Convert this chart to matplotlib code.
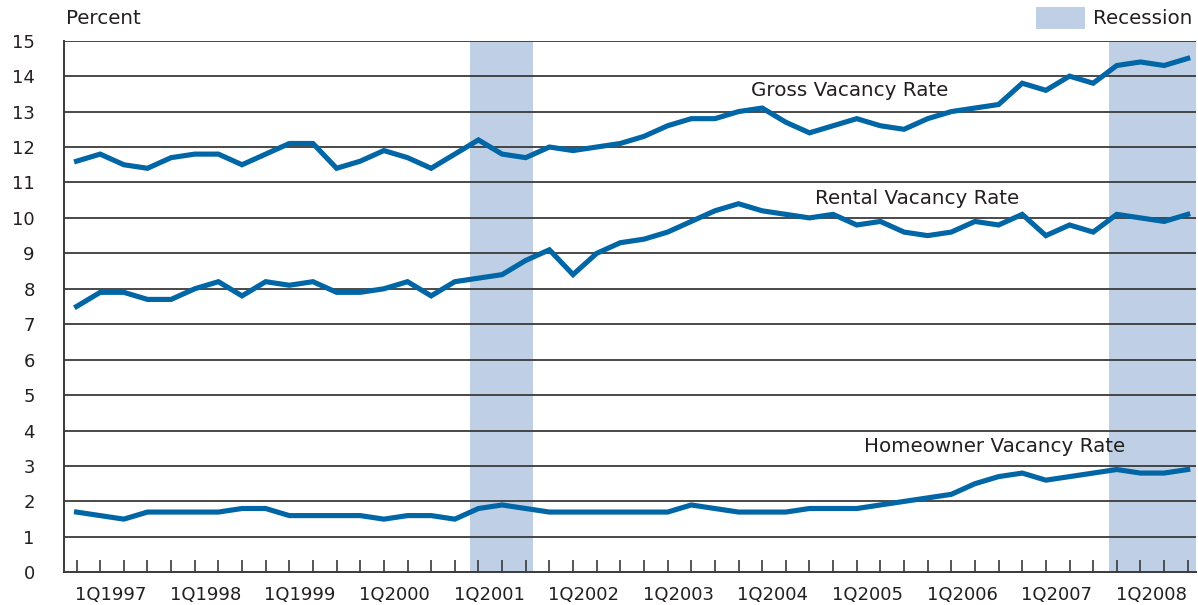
import matplotlib
matplotlib.use("Agg")
import matplotlib.pyplot as plt
import numpy as np

plt.rcParams['font.family'] = ['DejaVu Sans']

# Quarterly data, 1Q1997 .. 4Q2008
gross = [11.6, 11.8, 11.5, 11.4, 11.7, 11.8, 11.8, 11.5, 11.8, 12.1, 12.1, 11.4,
         11.6, 11.9, 11.7, 11.4, 11.8, 12.2, 11.8, 11.7, 12.0, 11.9, 12.0, 12.1,
         12.3, 12.6, 12.8, 12.8, 13.0, 13.1, 12.7, 12.4, 12.6, 12.8, 12.6, 12.5,
         12.8, 13.0, 13.1, 13.2, 13.8, 13.6, 14.0, 13.8, 14.3, 14.4, 14.3, 14.5]
rental = [7.5, 7.9, 7.9, 7.7, 7.7, 8.0, 8.2, 7.8, 8.2, 8.1, 8.2, 7.9,
          7.9, 8.0, 8.2, 7.8, 8.2, 8.3, 8.4, 8.8, 9.1, 8.4, 9.0, 9.3,
          9.4, 9.6, 9.9, 10.2, 10.4, 10.2, 10.1, 10.0, 10.1, 9.8, 9.9, 9.6,
          9.5, 9.6, 9.9, 9.8, 10.1, 9.5, 9.8, 9.6, 10.1, 10.0, 9.9, 10.1]
homeowner = [1.7, 1.6, 1.5, 1.7, 1.7, 1.7, 1.7, 1.8, 1.8, 1.6, 1.6, 1.6,
             1.6, 1.5, 1.6, 1.6, 1.5, 1.8, 1.9, 1.8, 1.7, 1.7, 1.7, 1.7,
             1.7, 1.7, 1.9, 1.8, 1.7, 1.7, 1.7, 1.8, 1.8, 1.8, 1.9, 2.0,
             2.1, 2.2, 2.5, 2.7, 2.8, 2.6, 2.7, 2.8, 2.9, 2.8, 2.8, 2.9]
year_labels = ['1Q1997', '1Q1998', '1Q1999', '1Q2000', '1Q2001', '1Q2002',
               '1Q2003', '1Q2004', '1Q2005', '1Q2006', '1Q2007', '1Q2008']
recessions = [(16.65, 19.3), (43.68, 48.0)]
yticks = list(range(0, 16))

line_color = '#0066a6'
shade_color = '#bfd0e6'
text_color = '#231f20'
grid_color = '#3a3a3a'
FS = 13
FS_TXT = 14.3

fig = plt.figure(figsize=(11.98, 6.05), dpi=100)
ax = fig.add_axes([64 / 1198, 1 - 572.3 / 605, (1196 - 64) / 1198, (572.3 - 40.7) / 605])

x = np.arange(len(gross))

for (a, b) in recessions:
    ax.axvspan(a, b, color=shade_color, lw=0, zorder=0)

for v in yticks[1:]:
    ax.axhline(v, color=grid_color, lw=1.3, zorder=1)

for s in (gross, rental, homeowner):
    ax.plot(x, s, color=line_color, lw=3.7, solid_joinstyle='miter', zorder=3)

ax.set_xlim(-0.53, 47.35)
ax.set_ylim(0, 15)

for sp in ('top', 'right'):
    ax.spines[sp].set_visible(False)
for sp in ('left', 'bottom'):
    ax.spines[sp].set_color(grid_color)
    ax.spines[sp].set_linewidth(1.4)

ax.set_yticks(yticks)
ax.set_yticklabels([str(v) for v in yticks], fontsize=FS, color=text_color)
ax.tick_params(axis='y', length=0, pad=21)

ax.set_xticks(x)
ax.set_xticklabels([])
ax.tick_params(axis='x', which='major', direction='in', length=8.5, width=1.2, color=grid_color)
ax.set_xticks([4 * i + 1.45 for i in range(len(year_labels))], minor=True)
ax.set_xticklabels(year_labels, minor=True, fontsize=FS, color=text_color)
ax.tick_params(axis='x', which='minor', length=0, pad=10)


def ftext(px, py, s, ha='center'):
    fig.text(px / 1198, 1 - py / 605, s, ha=ha, va='center', fontsize=FS_TXT, color=text_color)


ftext(850, 90, 'Gross Vacancy Rate')
ftext(917, 198, 'Rental Vacancy Rate')
ftext(995, 447, 'Homeowner Vacancy Rate')
ftext(66, 19, 'Percent', ha='left')

# Legend
leg_ax = fig.add_axes([1036 / 1198, 1 - 29 / 605, 49 / 1198, 22 / 605])
leg_ax.set_facecolor(shade_color)
for sp in leg_ax.spines.values():
    sp.set_visible(False)
leg_ax.set_xticks([])
leg_ax.set_yticks([])
ftext(1093, 18, 'Recession', ha='left')

fig.savefig('out.png', dpi=100)
